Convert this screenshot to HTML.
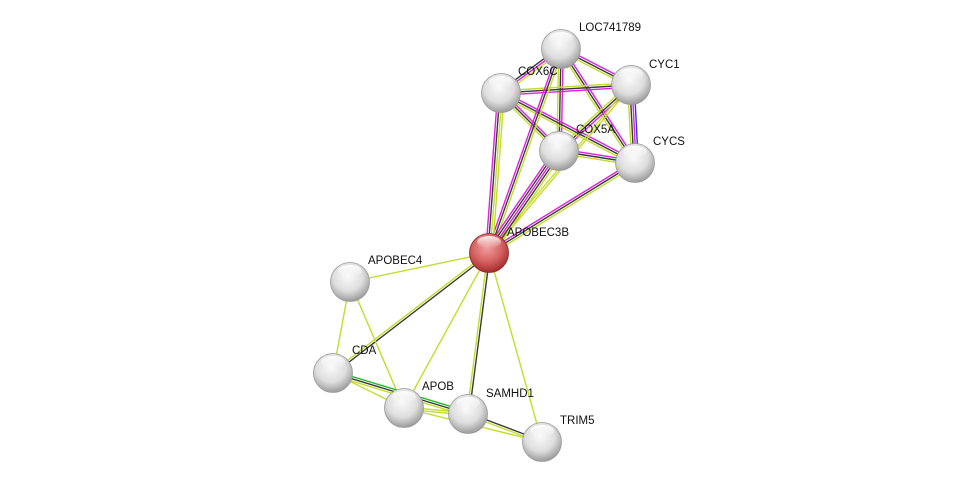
<!DOCTYPE html>
<html><head><meta charset="utf-8"><style>
html,body{margin:0;padding:0;background:#fff;width:976px;height:487px;overflow:hidden}
svg text{font-family:"Liberation Sans",Arial,sans-serif;font-size:11.5px;fill:#111}
</style></head><body>
<svg id="s" width="976" height="487" xmlns="http://www.w3.org/2000/svg">
<defs>
<radialGradient id="gw" cx="45%" cy="35%" r="70%">
<stop offset="0" stop-color="#fafafa"/><stop offset="0.55" stop-color="#dedede"/><stop offset="0.9" stop-color="#a0a0a0"/><stop offset="1" stop-color="#858585"/></radialGradient>
<radialGradient id="gr" cx="45%" cy="35%" r="70%">
<stop offset="0" stop-color="#f2a0a0"/><stop offset="0.55" stop-color="#d46060"/><stop offset="0.9" stop-color="#a83030"/><stop offset="1" stop-color="#852020"/></radialGradient>
<linearGradient id="hl" x1="0" y1="0" x2="0" y2="1"><stop offset="0" stop-color="#fff" stop-opacity="0.9"/><stop offset="1" stop-color="#fff" stop-opacity="0"/></linearGradient>
</defs>
<g id="edges"></g><g id="nodes"></g>
</svg>
<script>
var N={LOC:[561,49],CYC1:[631,85],COX6C:[501,93],COX5A:[559,151],CYCS:[635,163],A3B:[489,253],
A4:[350,282],CDA:[333,373],APOB:[404,408],SAM:[468,414],TRIM5:[542,442]};
var C={k:"#3a3a3a",m:"#e020e0",y:"#c4dc2c",b:"#2a3ae8",g:"#22c022"};
var E=[["LOC","CYC1","mky"],["LOC","COX6C","ymk"],["LOC","COX5A","mky"],["LOC","CYCS","mky"],
["CYC1","COX6C","mky"],["CYC1","COX5A","mky"],["CYC1","CYCS","bmky"],["COX6C","COX5A","mky"],
["COX6C","CYCS","mky"],["COX5A","CYCS","mky"],
["A3B","LOC","mky"],["A3B","COX6C","mkyy"],["A3B","CYC1","yy"],["A3B","COX5A","mkmky"],["A3B","CYCS","mky"],
["A3B","A4","y"],["A3B","CDA","ky"],["A3B","APOB","y"],["A3B","SAM","ky"],["A3B","TRIM5","y"],
["A4","CDA","y"],["A4","APOB","y"],["CDA","APOB","y"],["CDA","SAM","gky"],["APOB","SAM","yy"],
["SAM","TRIM5","ky"],["APOB","TRIM5","y"]];
var ns="http://www.w3.org/2000/svg",ge=document.getElementById("edges"),gn=document.getElementById("nodes");
E.forEach(function(e){var a=N[e[0]],b=N[e[1]],dx=b[0]-a[0],dy=b[1]-a[1],L=Math.hypot(dx,dy),px=-dy/L,py=dx/L,n=e[2].length;
for(var i=0;i<n;i++){var o=(i-(n-1)/2)*2.2,l=document.createElementNS(ns,"line");
l.setAttribute("x1",a[0]+px*o);l.setAttribute("y1",a[1]+py*o);l.setAttribute("x2",b[0]+px*o);l.setAttribute("y2",b[1]+py*o);
l.setAttribute("stroke",C[e[2][i]]);l.setAttribute("stroke-width","1.4");ge.appendChild(l);}});
var Lb={LOC:["LOC741789",579,31],CYC1:["CYC1",649,68],COX6C:["COX6C",518,75],COX5A:["COX5A",576,133],CYCS:["CYCS",653,145],
A3B:["APOBEC3B",507,236],A4:["APOBEC4",368,264],CDA:["CDA",352,354],APOB:["APOB",422,390],SAM:["SAMHD1",486,397],TRIM5:["TRIM5",560,424]};
for(var k in N){var p=N[k],c=document.createElementNS(ns,"circle");c.setAttribute("cx",p[0]);c.setAttribute("cy",p[1]);c.setAttribute("r",19.5);
c.setAttribute("fill",k=="A3B"?"url(#gr)":"url(#gw)");c.setAttribute("stroke",k=="A3B"?"#8a2a2a":"#9a9a9a");c.setAttribute("stroke-width","0.8");gn.appendChild(c);
var h=document.createElementNS(ns,"ellipse");h.setAttribute("cx",p[0]);h.setAttribute("cy",p[1]-11);h.setAttribute("rx",12);h.setAttribute("ry",6);h.setAttribute("fill","url(#hl)");gn.appendChild(h);
var t=document.createElementNS(ns,"text");t.setAttribute("x",Lb[k][1]);t.setAttribute("y",Lb[k][2]);t.textContent=Lb[k][0];gn.appendChild(t);}
</script>
</body></html>
